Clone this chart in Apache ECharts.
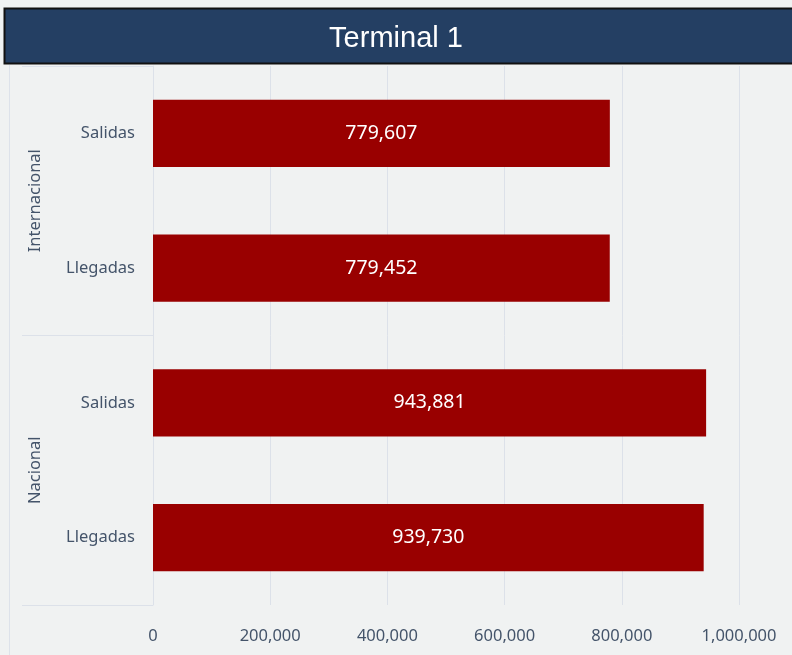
<!DOCTYPE html>
<html>
<head>
<meta charset="utf-8">
<script src="https://cdn.jsdelivr.net/npm/echarts@6/dist/echarts.min.js"></script>
<style>
  html, body { margin: 0; padding: 0; }
  #chart { width: 792px; height: 655px; }
</style>
</head>
<body>
<div id="chart"></div>
<script>
// datos (de abajo hacia arriba)
const categories = ['Llegadas', 'Salidas', 'Llegadas', 'Salidas'];
const groups = ['Nacional', 'Internacional'];
const pasajeros = [939730, 943881, 779452, 779607];
const xTicks = [0, 200000, 400000, 600000, 800000, 1000000];

const chart = echarts.init(document.getElementById('chart'));
const fmt = v => v.toLocaleString('en-US');
const gridColor = '#DCE1E9';
const labelColor = '#44546A';
const font = 'Noto Sans';

const option = {
  backgroundColor: '#F0F2F2',
  animation: false,
  grid: { left: 153, right: 53, top: 66, bottom: 50 },
  xAxis: {
    type: 'value',
    min: xTicks[0],
    max: xTicks[xTicks.length - 1],
    interval: 200000,
    axisLine: { show: false },
    axisTick: { show: false },
    splitLine: { lineStyle: { color: gridColor, width: 1 } },
    axisLabel: {
      color: labelColor, fontFamily: font, fontSize: 16.5, margin: 23,
      formatter: v => fmt(v)
    }
  },
  yAxis: [{
    type: 'category',
    data: categories,
    axisLine: { show: true, lineStyle: { color: gridColor } },
    axisTick: { show: false },
    axisLabel: { color: labelColor, fontFamily: font, fontSize: 16.5, margin: 18 }
  }, {
    type: 'category',
    data: groups,
    position: 'left',
    axisLine: { show: false },
    axisTick: { show: true, length: 131, interval: 0, lineStyle: { color: gridColor } },
    axisLabel: {
      color: labelColor, fontFamily: font, fontSize: 16.5, rotate: 90, margin: 109,
      interval: 0
    }
  }],
  series: [{
    type: 'bar',
    yAxisIndex: 0,
    data: pasajeros,
    barWidth: '50%',
    itemStyle: { color: '#990000' },
    label: {
      show: true, position: 'inside', color: '#ffffff',
      fontFamily: font, fontSize: 19.5,
      formatter: p => fmt(p.value)
    }
  }],
  graphic: [{
    type: 'line',
    shape: { x1: 9.5, y1: 65, x2: 9.5, y2: 655 },
    style: { stroke: '#DDE2EA', lineWidth: 1 }
  }, {
    type: 'rect',
    shape: { x: 4.5, y: 8.5, width: 792, height: 55 },
    style: { fill: '#243F63', stroke: '#111111', lineWidth: 2 }
  }, {
    type: 'text',
    left: 'center',
    top: 24,
    style: {
      text: 'Terminal 1', fill: '#ffffff',
      font: '29px "Liberation Sans", Arial, sans-serif'
    }
  }]
};
chart.setOption(option);
</script>
</body>
</html>
